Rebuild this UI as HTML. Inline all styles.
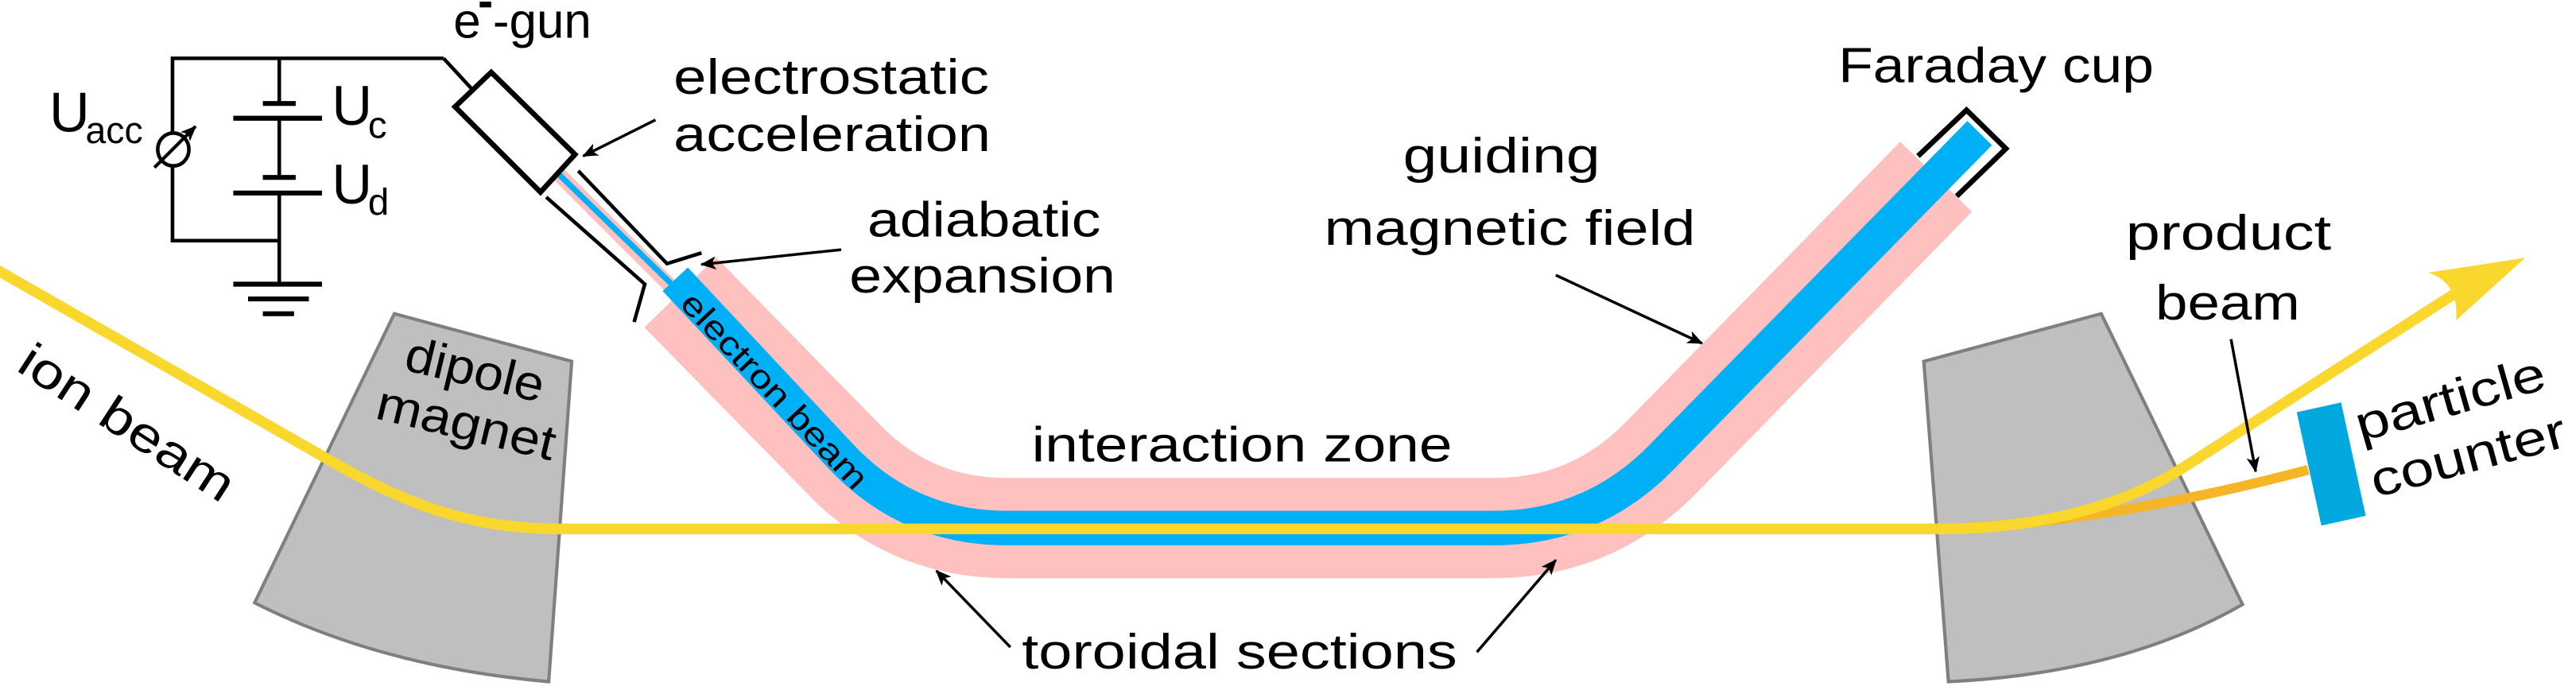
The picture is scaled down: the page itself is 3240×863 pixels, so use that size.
<!DOCTYPE html>
<html><head><meta charset="utf-8"><style>
html,body{margin:0;padding:0;background:#fff;}
svg{display:block;}
text{font-family:"Liberation Sans",sans-serif;fill:#000;}
</style></head><body>
<svg width="3240" height="863" viewBox="0 0 1568 417.65" preserveAspectRatio="none" xmlns="http://www.w3.org/2000/svg">
<defs>
<marker id="ah" viewBox="0 0 12 10" refX="11" refY="5" markerWidth="10" markerHeight="8" orient="auto" markerUnits="userSpaceOnUse">
<path d="M0,0 L12,5 L0,10 L3,5 Z" fill="#000"/>
</marker>
</defs>
<rect width="1568" height="418" fill="#fff"/>

<!-- dipole magnets -->
<path d="M240,191 L348,220 L334,415 Q232,406 155,367 Z" fill="#bfbfbf" stroke="#7f7f7f" stroke-width="2"/>
<path d="M1171,220 L1279,191 L1365,368 Q1292,410 1186,415 Z" fill="#bfbfbf" stroke="#7f7f7f" stroke-width="2"/>

<!-- thin tube beam -->
<line x1="339" y1="105" x2="412" y2="178" stroke="#ffc0c0" stroke-width="9"/>
<line x1="339" y1="105" x2="412" y2="176" stroke="#00b0f6" stroke-width="3.5"/>

<!-- guiding field (pink) -->
<path d="M414,178 L512,278 Q553,321.5 613,321.5 L909,321.5 Q969,321.5 1011,278.7 L1178.5,107.6" fill="none" stroke="#ffc0c0" stroke-width="61"/>
<!-- electron beam (blue) -->
<path d="M411,170 L512,278 Q553,321.5 613,321.5 L909,321.5 Q969,321.5 1011,278.7 L1205,81" fill="none" stroke="#00b0f6" stroke-width="21"/>

<!-- tube walls -->
<polyline points="352,104 406,160.5 427,154" fill="none" stroke="#000" stroke-width="2.2"/>
<polyline points="332.5,120 392.5,173 386,196" fill="none" stroke="#000" stroke-width="2.2"/>

<!-- Faraday cup -->
<polyline points="1167.5,95 1197,67 1221,90.5 1191,119.5" fill="none" stroke="#000" stroke-width="3.2"/>

<!-- circuit -->
<g stroke="#000" stroke-width="2.2" fill="none">
<polyline points="270,35.5 105,35.5 105,146.5 170,146.5"/>
<line x1="170" y1="35.5" x2="170" y2="63"/>
<line x1="170" y1="72" x2="170" y2="108"/>
<line x1="170" y1="117" x2="170" y2="173"/>
<line x1="270" y1="35.5" x2="288" y2="55"/>
<line x1="160" y1="63" x2="180" y2="63" stroke-width="3"/>
<line x1="142" y1="72" x2="196" y2="72" stroke-width="3"/>
<line x1="160" y1="108" x2="180" y2="108" stroke-width="3"/>
<line x1="142" y1="117.5" x2="196" y2="117.5" stroke-width="3"/>
<line x1="142" y1="173" x2="196" y2="173" stroke-width="3"/>
<line x1="151" y1="182" x2="188" y2="182" stroke-width="3"/>
<line x1="160" y1="191" x2="179" y2="191" stroke-width="3"/>
</g>
<ellipse cx="105.5" cy="91" rx="9.5" ry="10" fill="#fff" stroke="#000" stroke-width="2.2"/>
<line x1="94" y1="102" x2="119" y2="77" stroke="#000" stroke-width="2" marker-end="url(#ah)"/>

<!-- e-gun -->
<polygon points="277,65 299,44 350,94 329,117" fill="#fff" stroke="#000" stroke-width="3.2"/>

<!-- ion beam -->
<path d="M-5,162.5 L195,277 C240,303 280,322 340,322 L1179,322" fill="none" stroke="#f9d72c" stroke-width="6.5"/>
<!-- product beam -->
<path d="M1179,322 C1250,320 1330,306 1405,286" fill="none" stroke="#f6b526" stroke-width="6"/>
<path d="M1179,322 C1240,322 1290,309.6 1330,284 L1497,177" fill="none" stroke="#f9d72c" stroke-width="6.5"/>
<path d="M1537,157 L1478,166 Q1497,172 1495,195 Z" fill="#f9d72c"/>

<!-- particle counter -->
<polygon points="1398,251 1425,245 1440,314 1413,320" fill="#00a8e0"/>

<!-- arrows -->
<g stroke="#000" stroke-width="1.7" marker-end="url(#ah)">
<line x1="399" y1="73" x2="355" y2="95"/>
<line x1="512" y1="152" x2="427" y2="161"/>
<line x1="947" y1="167.5" x2="1036" y2="209"/>
<line x1="1358" y1="206.5" x2="1373" y2="287"/>
<line x1="615" y1="394" x2="570" y2="347.5"/>
<line x1="899" y1="397" x2="947" y2="341"/>
</g>

<!-- labels -->
<text x="30" y="80" font-size="34">U</text>
<text x="52" y="87" font-size="23" textLength="35" lengthAdjust="spacingAndGlyphs">acc</text>
<text x="202" y="76" font-size="34">U</text>
<text x="224" y="84" font-size="23">c</text>
<text x="202" y="124" font-size="34">U</text>
<text x="224" y="131" font-size="23">d</text>

<text x="276" y="23" font-size="30">e</text>
<rect x="292" y="1" width="7" height="3.5" fill="#000"/>
<text x="300" y="23" font-size="30" textLength="60" lengthAdjust="spacingAndGlyphs">-gun</text>

<text x="410" y="57" font-size="30" textLength="192" lengthAdjust="spacingAndGlyphs">electrostatic</text>
<text x="410" y="92" font-size="30" textLength="193" lengthAdjust="spacingAndGlyphs">acceleration</text>
<text x="528" y="144" font-size="30" textLength="142" lengthAdjust="spacingAndGlyphs">adiabatic</text>
<text x="517" y="178" font-size="30" textLength="162" lengthAdjust="spacingAndGlyphs">expansion</text>

<text x="1119" y="50" font-size="30" textLength="192" lengthAdjust="spacingAndGlyphs">Faraday cup</text>
<text x="854" y="105" font-size="30" textLength="120" lengthAdjust="spacingAndGlyphs">guiding</text>
<text x="806" y="149" font-size="30" textLength="226" lengthAdjust="spacingAndGlyphs">magnetic field</text>
<text x="1294" y="152" font-size="30" textLength="125" lengthAdjust="spacingAndGlyphs">product</text>
<text x="1312" y="194.5" font-size="30" textLength="88" lengthAdjust="spacingAndGlyphs">beam</text>

<text x="628" y="281" font-size="30" textLength="256" lengthAdjust="spacingAndGlyphs">interaction zone</text>
<text x="622" y="407" font-size="30" textLength="265" lengthAdjust="spacingAndGlyphs">toroidal sections</text>

<text transform="translate(9,225) rotate(33)" font-size="30" textLength="150" lengthAdjust="spacingAndGlyphs">ion beam</text>
<text transform="translate(245,225) rotate(13.5)" font-size="30" textLength="86" lengthAdjust="spacingAndGlyphs">dipole</text>
<text transform="translate(227.5,254.5) rotate(13.5)" font-size="30" textLength="111" lengthAdjust="spacingAndGlyphs">magnet</text>
<text transform="translate(1437,269) rotate(-16)" font-size="30" textLength="119" lengthAdjust="spacingAndGlyphs">particle</text>
<text transform="translate(1446,303) rotate(-15)" font-size="30" textLength="122" lengthAdjust="spacingAndGlyphs">counter</text>

<text transform="translate(418,181) rotate(46.8)" font-size="20" dominant-baseline="central" textLength="156" lengthAdjust="spacingAndGlyphs">electron beam</text>
</svg>
</body></html>
